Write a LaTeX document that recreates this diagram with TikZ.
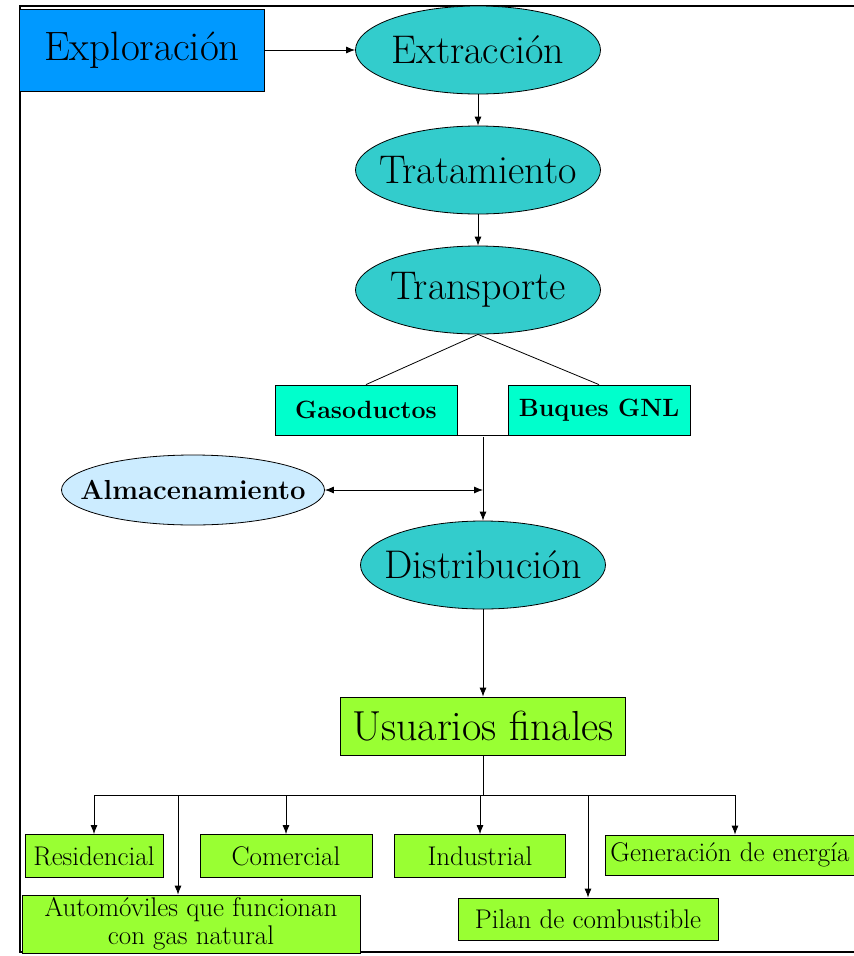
\documentclass[tikz,border=0pt]{standalone}
\usepackage{fontspec}
\usepackage{xcolor}
\usetikzlibrary{arrows.meta, shapes.geometric}

\definecolor{explblue}{HTML}{0099FF}
\definecolor{stagecyan}{HTML}{33CCCC}
\definecolor{transcyan}{HTML}{00FFCC}
\definecolor{storeblue}{HTML}{CCECFF}
\definecolor{usegreen}{HTML}{99FF33}

\begin{document}
\begin{tikzpicture}[x=1pt, y=-1pt, line width=0.8pt,
  arr/.style={-{Latex[length=9pt,width=7pt]}},
  stage/.style={ellipse, draw, fill=stagecyan, minimum width=245pt, minimum height=88pt,
    inner xsep=-40pt, inner ysep=0pt, font=\fontsize{40}{42}\selectfont},
  transbox/.style={rectangle, draw, fill=transcyan, minimum width=182pt, minimum height=50pt,
    inner sep=0pt, font=\fontsize{25}{27}\selectfont\bfseries},
  usebox/.style={rectangle, draw, fill=usegreen, inner sep=0pt, align=center,
    font=\fontsize{27}{28}\selectfont}]
  \useasboundingbox (0,0) rectangle (854,956);
  % outer frame
  \draw[line width=1.2pt] (854,6) -- (20,6) -- (20,952) -- (854,952);
  % chain of stages
  \node[rectangle, draw, fill=explblue, minimum width=245pt, minimum height=82pt,
    inner sep=0pt, font=\fontsize{41}{43}\selectfont] (explo) at (142,50) {Exploración};
  \node[stage] (extr) at (478,50) {Extracción};
  \node[stage] (trat) at (478,170) {Tratamiento};
  \node[stage] (transp) at (478,290) {Transporte};
  \node[transbox] (gas) at (366,410) {Gasoductos};
  \node[transbox] (buq) at (599,410) {Buques GNL};
  \node[ellipse, draw, fill=storeblue, minimum width=263pt, minimum height=70pt,
    inner xsep=-40pt, inner ysep=0pt,
    font=\fontsize{27.5}{29}\selectfont\bfseries] (alm) at (193,490) {Almacenamiento};
  \node[stage] (dist) at (483,565) {Distribución};
  \node[usebox, minimum width=285pt, minimum height=58pt,
    font=\fontsize{42}{44}\selectfont] (usu) at (483,726) {Usuarios finales};
  % end uses
  \node[usebox, minimum width=138pt, minimum height=43pt] (res) at (94,856) {Residencial};
  \node[usebox, minimum width=172pt, minimum height=43pt] (com) at (286,856) {Comercial};
  \node[usebox, minimum width=171pt, minimum height=43pt] (ind) at (480,856) {Industrial};
  \node[usebox, minimum width=250pt, minimum height=40pt] (gen) at (730,855) {Generación de energía};
  \node[usebox, minimum width=338pt, minimum height=58pt] (auto) at (191,924)
    {Automóviles que funcionan\\con gas natural};
  \node[usebox, minimum width=260pt, minimum height=42pt] (pil) at (588,919) {Pilan de combustible};
  % connectors
  \draw[arr] (explo.east) -- (extr.west);
  \draw[arr] (extr.south) -- (trat.north);
  \draw[arr] (trat.south) -- (transp.north);
  \draw (transp.south) -- (gas.north);
  \draw (transp.south) -- (buq.north);
  \draw (gas.south) -- (buq.south);
  \coordinate (junc) at (483,437);
  \coordinate (store) at (483,490);
  \draw[arr] (junc) -- (dist.north);
  \draw[{Latex[length=9pt,width=7pt]}-{Latex[length=9pt,width=7pt]}] (alm.east) -- (store);
  \draw[arr] (dist.south) -- (usu.north);
  \coordinate (split) at (483,795);
  \draw (usu.south) -- (split);
  \draw[arr] (split) -| (res.north);
  \draw[arr] (split) -| ([xshift=-13pt]auto.north);
  \draw[arr] (split) -| (com.north);
  \draw[arr] (split) -| (ind.north);
  \draw[arr] (split) -| (pil.north);
  \draw[arr] (split) -| ([xshift=5pt]gen.north);
\end{tikzpicture}
\end{document}
